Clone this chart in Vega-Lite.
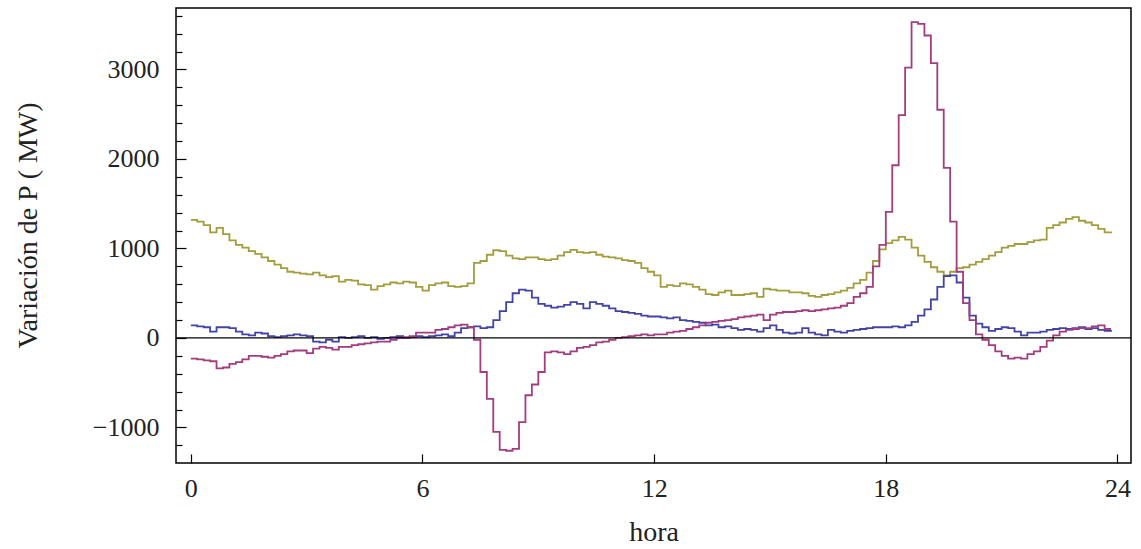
{
  "$schema": "https://vega.github.io/schema/vega-lite/v6.json",
  "autosize": "none",
  "width": 955,
  "height": 455,
  "padding": {"left": 176, "top": 8, "right": 10, "bottom": 86},
  "background": "white",
  "config": {"view": {"stroke": "black", "strokeWidth": 1.5}, "font": "Liberation Serif"},
  "data": {"values": [
    {"t":0,"o":1320,"b":140,"m":-230},{"t":10,"o":1300,"b":130,"m":-240},{"t":20,"o":1260,"b":120,"m":-250},{"t":30,"o":1180,"b":70,"m":-260},{"t":40,"o":1230,"b":120,"m":-340},{"t":50,"o":1160,"b":120,"m":-330},
    {"t":60,"o":1090,"b":110,"m":-290},{"t":70,"o":1040,"b":70,"m":-270},{"t":80,"o":1010,"b":40,"m":-240},{"t":90,"o":970,"b":30,"m":-200},{"t":100,"o":940,"b":60,"m":-200},{"t":110,"o":900,"b":50,"m":-210},
    {"t":120,"o":860,"b":20,"m":-220},{"t":130,"o":820,"b":10,"m":-200},{"t":140,"o":780,"b":20,"m":-180},{"t":150,"o":740,"b":30,"m":-150},{"t":160,"o":730,"b":40,"m":-140},{"t":170,"o":720,"b":30,"m":-140},
    {"t":180,"o":710,"b":20,"m":-170},{"t":190,"o":730,"b":-40,"m":-120},{"t":200,"o":700,"b":-50,"m":-100},{"t":210,"o":680,"b":-20,"m":-110},{"t":220,"o":690,"b":-40,"m":-130},{"t":230,"o":630,"b":10,"m":-100},
    {"t":240,"o":650,"b":0,"m":-100},{"t":250,"o":640,"b":10,"m":-80},{"t":260,"o":600,"b":20,"m":-70},{"t":270,"o":590,"b":0,"m":-60},{"t":280,"o":540,"b":10,"m":-50},{"t":290,"o":580,"b":-10,"m":-40},
    {"t":300,"o":600,"b":0,"m":-40},{"t":310,"o":620,"b":10,"m":-20},{"t":320,"o":610,"b":20,"m":0},{"t":330,"o":630,"b":0,"m":10},{"t":340,"o":620,"b":10,"m":20},{"t":350,"o":570,"b":20,"m":60},
    {"t":360,"o":530,"b":10,"m":60},{"t":370,"o":590,"b":20,"m":60},{"t":380,"o":610,"b":30,"m":90},{"t":390,"o":620,"b":40,"m":100},{"t":400,"o":580,"b":20,"m":120},{"t":410,"o":570,"b":60,"m":140},
    {"t":420,"o":580,"b":110,"m":150},{"t":430,"o":610,"b":120,"m":120},{"t":440,"o":840,"b":130,"m":-20},{"t":450,"o":860,"b":110,"m":-380},{"t":460,"o":930,"b":120,"m":-680},{"t":470,"o":980,"b":200,"m":-1050},
    {"t":480,"o":970,"b":300,"m":-1250},{"t":490,"o":920,"b":400,"m":-1260},{"t":500,"o":890,"b":500,"m":-1240},{"t":510,"o":880,"b":540,"m":-940},{"t":520,"o":900,"b":530,"m":-640},{"t":530,"o":900,"b":450,"m":-520},
    {"t":540,"o":880,"b":380,"m":-380},{"t":550,"o":870,"b":360,"m":-160},{"t":560,"o":880,"b":340,"m":-150},{"t":570,"o":920,"b":350,"m":-160},{"t":580,"o":960,"b":370,"m":-180},{"t":590,"o":985,"b":400,"m":-150},
    {"t":600,"o":960,"b":380,"m":-110},{"t":610,"o":950,"b":330,"m":-100},{"t":620,"o":960,"b":400,"m":-80},{"t":630,"o":930,"b":380,"m":-50},{"t":640,"o":910,"b":360,"m":-40},{"t":650,"o":900,"b":330,"m":-20},
    {"t":660,"o":890,"b":300,"m":0},{"t":670,"o":870,"b":290,"m":10},{"t":680,"o":860,"b":280,"m":20},{"t":690,"o":840,"b":270,"m":30},{"t":700,"o":780,"b":250,"m":40},{"t":710,"o":740,"b":240,"m":30},
    {"t":720,"o":700,"b":240,"m":40},{"t":730,"o":570,"b":230,"m":40},{"t":740,"o":590,"b":220,"m":60},{"t":750,"o":580,"b":230,"m":70},{"t":760,"o":610,"b":200,"m":80},{"t":770,"o":600,"b":190,"m":100},
    {"t":780,"o":570,"b":180,"m":120},{"t":790,"o":540,"b":170,"m":140},{"t":800,"o":490,"b":140,"m":170},{"t":810,"o":480,"b":150,"m":180},{"t":820,"o":510,"b":120,"m":190},{"t":830,"o":530,"b":130,"m":200},
    {"t":840,"o":480,"b":110,"m":210},{"t":850,"o":480,"b":90,"m":230},{"t":860,"o":490,"b":100,"m":240},{"t":870,"o":500,"b":90,"m":250},{"t":880,"o":460,"b":70,"m":260},{"t":890,"o":550,"b":110,"m":200},
    {"t":900,"o":540,"b":140,"m":260},{"t":910,"o":530,"b":90,"m":280},{"t":920,"o":530,"b":60,"m":290},{"t":930,"o":510,"b":50,"m":290},{"t":940,"o":510,"b":60,"m":300},{"t":950,"o":500,"b":110,"m":310},
    {"t":960,"o":470,"b":60,"m":300},{"t":970,"o":460,"b":40,"m":310},{"t":980,"o":480,"b":30,"m":320},{"t":990,"o":490,"b":90,"m":330},{"t":1000,"o":510,"b":70,"m":340},{"t":1010,"o":530,"b":60,"m":360},
    {"t":1020,"o":560,"b":80,"m":390},{"t":1030,"o":610,"b":90,"m":460},{"t":1040,"o":650,"b":100,"m":500},{"t":1050,"o":730,"b":110,"m":570},{"t":1060,"o":860,"b":120,"m":800},{"t":1070,"o":990,"b":120,"m":1040},
    {"t":1080,"o":1060,"b":120,"m":1410},{"t":1090,"o":1090,"b":130,"m":1930},{"t":1100,"o":1130,"b":120,"m":2490},{"t":1110,"o":1100,"b":140,"m":3020},{"t":1120,"o":1010,"b":180,"m":3530},{"t":1130,"o":920,"b":250,"m":3510},
    {"t":1140,"o":850,"b":320,"m":3380},{"t":1150,"o":790,"b":430,"m":3070},{"t":1160,"o":740,"b":570,"m":2550},{"t":1170,"o":700,"b":690,"m":1900},{"t":1180,"o":740,"b":700,"m":1300},{"t":1190,"o":780,"b":620,"m":740},
    {"t":1200,"o":790,"b":450,"m":390},{"t":1210,"o":820,"b":250,"m":200},{"t":1220,"o":850,"b":160,"m":40},{"t":1230,"o":880,"b":120,"m":-20},{"t":1240,"o":920,"b":80,"m":-80},{"t":1250,"o":960,"b":100,"m":-150},
    {"t":1260,"o":1010,"b":120,"m":-200},{"t":1270,"o":1030,"b":110,"m":-230},{"t":1280,"o":1050,"b":70,"m":-220},{"t":1290,"o":1050,"b":30,"m":-230},{"t":1300,"o":1070,"b":60,"m":-180},{"t":1310,"o":1090,"b":60,"m":-150},
    {"t":1320,"o":1100,"b":70,"m":-100},{"t":1330,"o":1230,"b":90,"m":-30},{"t":1340,"o":1260,"b":100,"m":30},{"t":1350,"o":1290,"b":110,"m":70},{"t":1360,"o":1330,"b":100,"m":90},{"t":1370,"o":1350,"b":110,"m":100},
    {"t":1380,"o":1310,"b":120,"m":110},{"t":1390,"o":1290,"b":100,"m":110},{"t":1400,"o":1260,"b":110,"m":130},{"t":1410,"o":1220,"b":90,"m":140},{"t":1420,"o":1180,"b":80,"m":100},{"t":1430,"o":1170,"b":70,"m":100}
  ]},
  "resolve": {"axis": {"y": "independent"}},
  "layer": [
    {
      "transform": [{"fold": ["o", "b", "m"], "as": ["serie", "valor"]}],
      "mark": {"type": "line", "interpolate": "step-after", "strokeWidth": 1.8},
      "encoding": {
        "x": {
          "field": "t", "type": "quantitative",
          "scale": {"domain": [-23, 1461], "nice": false, "zero": false},
          "axis": {
            "title": "hora",
            "values": [0, 360, 720, 1080, 1440],
            "labelExpr": "'' + (datum.value / 60)",
            "domain": false, "grid": false,
            "tickSize": -9, "tickColor": "black", "tickWidth": 1.2,
            "labelFont": "Liberation Serif", "labelFontSize": 26, "labelColor": "#222",
            "labelPadding": 21, "labelOverlap": false,
            "titleFont": "Liberation Serif", "titleFontSize": 28, "titleFontWeight": "normal", "titleColor": "#222",
            "titleBaseline": "alphabetic", "titleY": 77
          }
        },
        "y": {
          "field": "valor", "type": "quantitative",
          "scale": {"domain": [-1397, 3687], "nice": false, "zero": false},
          "axis": {
            "orient": "left",
            "title": "Variación de P ( MW)",
            "values": [-1000, 0, 1000, 2000, 3000],
            "labelExpr": "datum.value < 0 ? '\u2212' + abs(datum.value) : '' + datum.value",
            "domain": false, "grid": false,
            "tickSize": -10, "tickColor": "black", "tickWidth": 1.2,
            "labelFont": "Liberation Serif", "labelFontSize": 26, "labelColor": "#222",
            "labelPadding": 27, "labelOverlap": false, "labelBaseline": "middle",
            "titleFont": "Liberation Serif", "titleFontSize": 28, "titleFontWeight": "normal", "titleColor": "#222",
            "titleX": -148, "titleY": 217, "titleBaseline": "middle"
          }
        },
        "color": {
          "field": "serie", "type": "nominal",
          "scale": {"domain": ["o", "b", "m"], "range": ["#A39D3E", "#4343A6", "#A23C80"]},
          "legend": null
        }
      }
    },
    {
      "data": {"values": [{"valor": 0}]},
      "mark": {"type": "rule", "color": "black", "strokeWidth": 1.3},
      "encoding": {
        "y": {
          "field": "valor", "type": "quantitative",
          "axis": {
            "orient": "left",
            "title": null,
            "values": [-1200, -800, -600, -400, -200, 200, 400, 600, 800, 1200, 1400, 1600, 1800, 2200, 2400, 2600, 2800, 3200, 3400, 3600],
            "labels": false,
            "domain": false, "grid": false,
            "tickSize": -6, "tickColor": "black", "tickWidth": 1.2
          }
        }
      }
    }
  ]
}
